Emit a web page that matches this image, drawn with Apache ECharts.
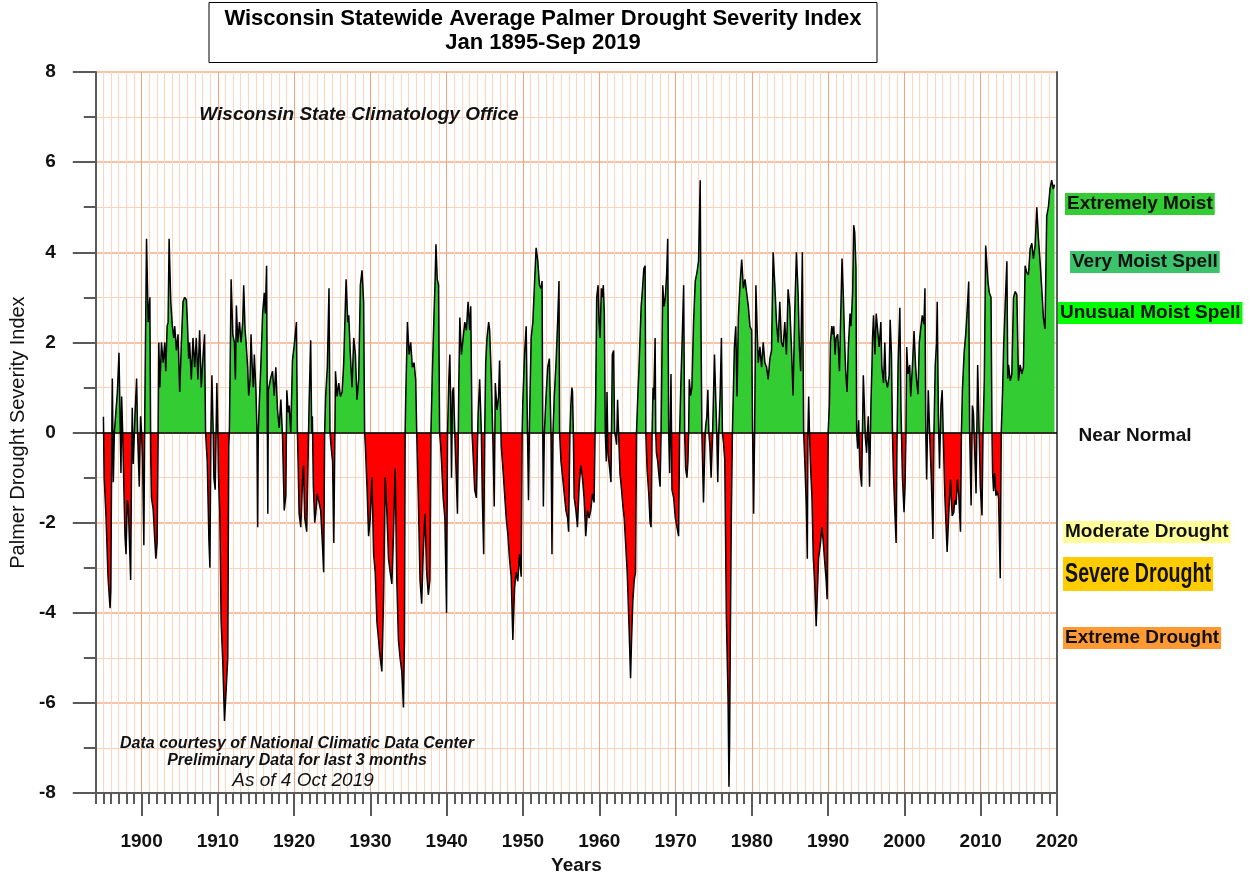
<!DOCTYPE html>
<html>
<head>
<meta charset="utf-8">
<title>Wisconsin PDSI</title>
<script src="https://cdn.jsdelivr.net/npm/echarts/dist/echarts.min.js"></script>
<style>
  html, body { margin: 0; padding: 0; background: #fff; }
  #chart { width: 1251px; height: 880px; }
</style>
</head>
<body>
<div id="chart"></div>
<script>
// monthly PDSI, kept as [year, index] pairs per decade
const pdsi1890s = [
  [1895.0, 0.35], [1895.1, -1.0], [1895.35, -1.9], [1895.6, -3.2], [1895.87, -3.9], [1895.97, -3.5], [1896.12, 0.4],
  [1896.17, 1.2], [1896.3, -1.1], [1896.43, 0.0], [1896.65, 0.5], [1896.83, 0.9], [1897.04, 1.77], [1897.17, 0.45],
  [1897.3, -0.9], [1897.39, 0.8], [1897.52, 0.0], [1897.83, -2.3], [1897.96, -2.7], [1898.13, -1.5], [1898.26, -1.6],
  [1898.57, -3.27], [1898.7, -0.45], [1898.78, 0.55], [1898.91, -0.7], [1899.13, 0.36], [1899.35, 1.2], [1899.48, 0.0],
  [1899.7, -1.2], [1899.87, 0.36]
];
const pdsi1900s = [
  [1900.0, 0.0], [1900.13, -0.55], [1900.3, -2.5], [1900.43, 0.6], [1900.65, 4.3], [1900.87, 2.45], [1901.09, 3.0],
  [1901.2, -0.5], [1901.3, -1.45], [1901.52, -1.7], [1901.74, -2.4], [1901.87, -2.8], [1902.04, -2.45], [1902.17, -0.1],
  [1902.26, 2.0], [1902.39, 1.0], [1902.61, 2.0], [1902.83, 1.55], [1903.04, 2.0], [1903.17, 1.36], [1903.35, 2.36],
  [1903.48, 2.45], [1903.61, 4.3], [1903.83, 2.9], [1904.04, 2.36], [1904.22, 2.1], [1904.35, 2.36], [1904.57, 1.82],
  [1904.78, 2.18], [1905.0, 0.9], [1905.22, 2.0], [1905.43, 2.9], [1905.65, 3.0], [1905.87, 2.95], [1906.0, 2.5],
  [1906.17, 1.64], [1906.3, 2.0], [1906.52, 1.18], [1906.74, 2.1], [1906.96, 1.45], [1907.17, 2.1], [1907.39, 1.18],
  [1907.61, 2.27], [1907.83, 1.0], [1908.04, 1.64], [1908.26, 2.18], [1908.39, 0.0], [1908.61, -0.64], [1908.83, -2.4],
  [1908.96, -3.0], [1909.09, 0.0], [1909.22, 1.27], [1909.39, 0.0], [1909.48, -1.0], [1909.65, -1.27], [1909.87, 1.1]
];
const pdsi1910s = [
  [1910.0, 0.0], [1910.09, -1.0], [1910.26, -1.8], [1910.43, -4.2], [1910.65, -5.1], [1910.87, -6.4], [1911.09, -5.7],
  [1911.3, -5.0], [1911.43, -0.3], [1911.52, 0.1], [1911.74, 3.4], [1911.96, 2.18], [1912.17, 2.0], [1912.3, 1.18],
  [1912.43, 2.82], [1912.61, 2.0], [1912.83, 2.45], [1913.04, 2.0], [1913.26, 2.45], [1913.39, 3.27], [1913.57, 2.27],
  [1913.7, 2.0], [1913.91, 1.45], [1914.04, 0.82], [1914.22, 1.18], [1914.35, 2.18], [1914.48, 1.55], [1914.65, 1.0],
  [1914.78, 1.73], [1915.0, 0.9], [1915.13, 0.0], [1915.22, -2.1], [1915.3, 0.0], [1915.43, 0.64], [1915.65, 1.55],
  [1915.87, 2.64], [1916.09, 3.1], [1916.22, 2.64], [1916.39, 3.7], [1916.48, 0.5], [1916.55, -1.8], [1916.62, 0.94],
  [1916.95, 1.23], [1917.17, 1.36], [1917.39, 0.82], [1917.6, 1.45], [1917.82, 0.5], [1918.04, 0.1], [1918.26, 0.73],
  [1918.48, -0.1], [1918.7, -1.73], [1918.91, -1.4], [1919.04, 0.94], [1919.22, 0.45], [1919.35, 0.6], [1919.56, 0.0],
  [1919.78, 1.6]
];
const pdsi1920s = [
  [1920.0, 1.92], [1920.13, 1.9], [1920.3, 2.45], [1920.43, 0.0], [1920.52, -0.64], [1920.65, -1.8], [1920.87, -2.1],
  [1921.09, -1.1], [1921.22, -0.73], [1921.39, -1.9], [1921.65, -2.2], [1921.78, -1.0], [1921.96, 0.64], [1922.17, 2.05],
  [1922.3, 0.0], [1922.39, 0.36], [1922.52, -1.18], [1922.7, -2.0], [1922.83, -1.8], [1923.04, -1.36], [1923.26, -1.55],
  [1923.48, -1.73], [1923.7, -2.45], [1923.87, -3.1], [1924.0, 0.0], [1924.13, 0.82], [1924.35, 1.45], [1924.57, 3.2],
  [1924.7, 0.0], [1924.87, -0.36], [1925.04, -0.64], [1925.2, -2.45], [1925.42, 1.36], [1925.63, 0.8], [1925.85, 1.1],
  [1926.07, 0.8], [1926.29, 0.9], [1926.5, 1.55], [1926.81, 3.4], [1927.03, 2.45], [1927.16, 2.6], [1927.37, 1.73],
  [1927.59, 1.0], [1927.81, 2.1], [1928.03, 1.73], [1928.24, 0.73], [1928.46, 1.18], [1928.68, 3.27], [1928.9, 3.6],
  [1929.11, 2.9], [1929.24, 0.0], [1929.33, -0.27], [1929.55, -1.2], [1929.76, -2.3], [1929.98, -1.9]
];
const pdsi1930s = [
  [1930.2, -1.0], [1930.42, -2.7], [1930.63, -3.1], [1930.85, -4.2], [1931.07, -4.6], [1931.28, -5.0], [1931.5, -5.3],
  [1931.72, -3.7], [1931.94, -1.0], [1932.15, -1.73], [1932.37, -2.8], [1932.59, -3.1], [1932.81, -3.36], [1933.02, -2.27],
  [1933.24, -0.8], [1933.46, -3.27], [1933.67, -4.6], [1933.89, -5.0], [1934.11, -5.3], [1934.33, -6.1], [1934.46, -4.6],
  [1934.55, 0.0], [1934.63, 0.8], [1934.85, 2.45], [1935.07, 1.73], [1935.28, 2.0], [1935.5, 1.45], [1935.72, 1.55],
  [1935.93, 1.18], [1936.07, 0.0], [1936.28, -1.45], [1936.5, -3.27], [1936.72, -3.8], [1936.93, -2.6], [1937.15, -1.8],
  [1937.37, -3.1], [1937.59, -3.6], [1937.8, -3.27], [1937.93, 0.0], [1938.11, 1.27], [1938.33, 2.6], [1938.46, 3.27],
  [1938.59, 4.18], [1938.76, 3.4], [1938.93, 3.27], [1939.07, 0.0], [1939.2, -0.27], [1939.32, -0.64], [1939.54, -1.45],
  [1939.76, -1.9], [1939.98, -4.0]
];
const pdsi1940s = [
  [1940.11, 0.0], [1940.28, 1.18], [1940.41, 1.73], [1940.54, 0.45], [1940.63, -1.0], [1940.76, 0.9], [1940.89, 1.0],
  [1941.06, 0.0], [1941.19, -0.64], [1941.41, -1.8], [1941.58, 1.0], [1941.72, 2.55], [1941.93, 1.73], [1942.15, 2.1],
  [1942.37, 2.45], [1942.58, 2.27], [1942.8, 2.9], [1943.02, 2.27], [1943.15, 2.8], [1943.32, 0.0], [1943.45, -0.45],
  [1943.67, -1.27], [1943.89, -1.45], [1944.11, 0.36], [1944.32, 1.18], [1944.54, 0.0], [1944.67, -1.45], [1944.85, -2.7],
  [1944.98, 0.0], [1945.11, 1.55], [1945.28, 2.1], [1945.5, 2.45], [1945.63, 2.27], [1945.85, 1.2], [1946.06, -0.2],
  [1946.23, -1.64], [1946.37, 1.1], [1946.59, 0.5], [1946.8, 0.8], [1946.93, 1.6], [1947.06, 0.5], [1947.15, -0.3],
  [1947.37, -0.8], [1947.8, -1.9], [1948.02, -2.27], [1948.23, -2.8], [1948.45, -3.2], [1948.67, -4.6], [1948.89, -3.45],
  [1949.1, -3.1], [1949.32, -3.3], [1949.54, -2.7], [1949.76, -3.2], [1949.89, 0.0]
];
const pdsi1950s = [
  [1949.98, 0.7], [1950.2, 1.73], [1950.42, 2.36], [1950.55, 0.5], [1950.72, -1.5], [1950.85, 0.2], [1951.07, 2.1],
  [1951.29, 2.45], [1951.5, 3.27], [1951.72, 4.1], [1951.94, 3.8], [1952.16, 3.27], [1952.37, 3.2], [1952.5, 3.36],
  [1952.59, 0.0], [1952.67, -1.64], [1952.8, 0.0], [1953.02, 0.8], [1953.24, 1.45], [1953.46, 1.64], [1953.67, 0.0],
  [1953.8, -2.7], [1953.93, 0.0], [1954.1, 0.8], [1954.33, 1.55], [1954.54, 2.45], [1954.72, 3.36], [1954.8, 0.0],
  [1954.98, -0.64], [1955.2, -1.0], [1955.41, -1.36], [1955.63, -1.73], [1955.85, -1.9], [1955.98, -2.2], [1956.15, 0.0],
  [1956.28, 0.64], [1956.41, 1.0], [1956.49, 0.9], [1956.6, 0.0], [1956.71, -1.45], [1956.92, -1.7], [1957.14, -2.1],
  [1957.36, -1.18], [1957.58, -0.73], [1957.79, -1.0], [1958.01, -1.45], [1958.23, -2.3], [1958.45, -1.73], [1958.66, -1.9],
  [1958.88, -1.73], [1959.1, -1.36], [1959.32, -1.55], [1959.45, 0.0], [1959.53, 0.8], [1959.66, 3.0], [1959.84, 3.27],
  [1959.97, 2.45]
];
const pdsi1960s = [
  [1960.1, 2.1], [1960.27, 3.2], [1960.4, 3.0], [1960.53, 3.27], [1960.66, 2.64], [1960.79, 0.0], [1960.92, -0.64],
  [1961.01, 0.9], [1961.14, -0.45], [1961.36, -0.8], [1961.53, -1.1], [1961.71, 1.73], [1961.88, 1.82], [1962.01, 0.0],
  [1962.14, -0.1], [1962.27, -0.27], [1962.4, 0.73], [1962.53, 0.0], [1962.71, -0.9], [1962.92, -1.27], [1963.1, -1.64],
  [1963.27, -1.9], [1963.45, -2.45], [1963.66, -3.1], [1963.88, -4.2], [1964.1, -5.45], [1964.23, -4.6], [1964.4, -3.73],
  [1964.58, -3.27], [1964.75, -3.1], [1964.88, 0.0], [1965.05, 0.82], [1965.19, 1.36], [1965.32, 2.0], [1965.49, 2.8],
  [1965.66, 3.18], [1965.84, 3.64], [1966.01, 3.7], [1966.1, 0.0], [1966.27, -0.82], [1966.49, -1.36], [1966.66, -2.0],
  [1966.79, -2.1], [1966.92, 0.0], [1967.05, 1.0], [1967.14, 0.73], [1967.32, 2.1], [1967.4, 0.0], [1967.49, -0.45],
  [1967.66, -0.64], [1967.79, -0.9], [1967.97, -1.2], [1968.1, 0.0], [1968.32, 3.27], [1968.49, 2.8], [1968.66, 3.0],
  [1968.84, 3.55], [1968.97, 4.3], [1969.1, 0.0], [1969.23, -0.9], [1969.4, 1.3], [1969.53, -1.27], [1969.75, -1.45],
  [1969.97, -1.9]
];
const pdsi1970s = [
  [1970.18, -2.1], [1970.4, -2.3], [1970.53, 0.0], [1970.71, 1.18], [1970.84, 1.9], [1971.06, 3.27], [1971.19, 0.0],
  [1971.32, -0.8], [1971.49, -1.0], [1971.62, -0.64], [1971.71, 0.0], [1971.8, 1.18], [1971.97, 0.82], [1972.14, 1.0],
  [1972.36, 2.45], [1972.58, 3.36], [1972.8, 3.55], [1973.01, 3.8], [1973.23, 5.6], [1973.35, 2.0], [1973.45, 0.0],
  [1973.66, -1.55], [1973.88, 0.0], [1973.97, 0.18], [1974.1, 0.36], [1974.23, 0.95], [1974.36, 0.0], [1974.49, -0.27],
  [1974.66, -1.0], [1974.84, -0.1], [1975.1, 1.73], [1975.27, 0.73], [1975.4, 0.0], [1975.53, -1.1], [1975.66, 0.0],
  [1975.84, 0.82], [1976.01, 2.1], [1976.14, 0.0], [1976.27, -0.2], [1976.45, -0.6], [1976.66, -4.1], [1976.88, -5.9],
  [1977.0, -7.86], [1977.08, -6.9], [1977.2, -4.1], [1977.3, -2.0], [1977.45, 0.0], [1977.71, 1.9], [1977.89, 2.36],
  [1978.06, 0.8], [1978.23, 2.55], [1978.45, 3.3], [1978.67, 3.84], [1978.89, 3.2], [1979.1, 3.4], [1979.32, 3.1],
  [1979.54, 2.8], [1979.75, 2.36], [1979.97, 2.27]
];
const pdsi1980s = [
  [1980.1, 0.0], [1980.23, -1.8], [1980.36, 0.0], [1980.53, 3.27], [1980.71, 2.2], [1980.84, 1.55], [1981.06, 1.9],
  [1981.27, 1.45], [1981.49, 2.0], [1981.71, 1.55], [1981.93, 1.45], [1982.14, 1.18], [1982.36, 1.64], [1982.58, 1.82],
  [1982.79, 4.0], [1983.01, 3.27], [1983.23, 2.45], [1983.45, 2.0], [1983.66, 2.9], [1983.88, 2.0], [1984.1, 1.9],
  [1984.32, 2.45], [1984.53, 1.73], [1984.75, 3.18], [1984.97, 2.8], [1985.19, 1.9], [1985.4, 0.82], [1985.62, 2.64],
  [1985.84, 4.0], [1986.06, 3.1], [1986.23, 1.9], [1986.4, 1.36], [1986.62, 4.0], [1986.79, 0.0], [1986.92, -0.55],
  [1987.14, -1.64], [1987.27, -2.8], [1987.35, 0.0], [1987.45, 0.8], [1987.55, 0.0], [1987.71, -0.8], [1987.88, -1.45],
  [1988.06, -2.8], [1988.23, -3.3], [1988.43, -4.3], [1988.56, -3.7], [1988.74, -2.8], [1989.0, -2.45], [1989.17, -2.1],
  [1989.35, -2.4], [1989.52, -2.8], [1989.74, -3.27], [1989.87, -3.7]
];
const pdsi1990s = [
  [1990.0, 0.0], [1990.17, 0.64], [1990.3, 2.0], [1990.48, 2.36], [1990.61, 2.18], [1990.74, 2.36], [1990.91, 1.73],
  [1991.04, 2.1], [1991.26, 2.18], [1991.48, 1.36], [1991.69, 2.9], [1991.82, 3.86], [1992.0, 3.0], [1992.13, 2.18],
  [1992.3, 1.36], [1992.48, 0.9], [1992.65, 1.9], [1992.87, 2.64], [1993.0, 2.36], [1993.21, 3.1], [1993.35, 4.6],
  [1993.48, 4.45], [1993.65, 3.64], [1993.74, 0.0], [1993.87, -0.36], [1994.0, 0.27], [1994.17, -0.8], [1994.39, -1.2],
  [1994.61, 1.27], [1994.74, 0.64], [1994.87, -0.1], [1995.04, -0.45], [1995.26, 0.36], [1995.43, -1.2], [1995.61, 0.64],
  [1995.74, 1.45], [1995.82, 2.1], [1995.95, 2.6], [1996.13, 1.73], [1996.3, 2.64], [1996.48, 2.6], [1996.69, 1.9],
  [1996.91, 2.45], [1997.04, 1.45], [1997.26, 1.1], [1997.43, 2.0], [1997.56, 1.18], [1997.78, 1.0], [1998.0, 1.27],
  [1998.13, 2.5], [1998.3, 1.73], [1998.43, 0.0], [1998.56, -0.9], [1998.74, -1.73], [1998.91, -2.45], [1999.0, -0.5],
  [1999.17, 1.5], [1999.4, 2.77], [1999.55, 0.5], [1999.74, -1.0], [1999.95, -1.77]
];
const pdsi2000s = [
  [2000.08, -1.2], [2000.2, 0.0], [2000.3, 1.9], [2000.47, 1.3], [2000.69, 1.5], [2000.82, 0.8], [2001.04, 1.45],
  [2001.26, 2.25], [2001.47, 1.45], [2001.6, 1.15], [2001.78, 0.85], [2001.95, 2.0], [2002.13, 2.3], [2002.34, 2.6],
  [2002.56, 2.4], [2002.69, 3.2], [2002.8, 0.0], [2002.91, -1.04], [2003.02, 0.0], [2003.13, 0.94], [2003.3, 0.0],
  [2003.52, -1.0], [2003.74, -2.36], [2003.87, 0.0], [2004.04, 1.5], [2004.21, 2.0], [2004.3, 2.9], [2004.45, 0.4],
  [2004.6, -0.8], [2004.78, 0.6], [2004.95, 0.94], [2005.08, 0.0], [2005.3, -1.4], [2005.6, -2.65], [2005.82, -1.77],
  [2006.04, -1.04], [2006.26, -1.85], [2006.47, -1.77], [2006.6, -1.5], [2006.78, -1.6], [2006.95, -1.04], [2007.13, -1.4],
  [2007.35, -2.2], [2007.47, 0.0], [2007.6, 0.94], [2007.82, 1.75], [2008.04, 2.2], [2008.21, 2.66], [2008.43, 3.35],
  [2008.55, 0.0], [2008.74, -1.62], [2008.91, 0.6], [2009.04, 0.45], [2009.21, -0.4], [2009.39, -1.35], [2009.6, 1.5],
  [2009.78, 1.5], [2009.95, -1.2]
];
const pdsi2010s = [
  [2010.17, -1.84], [2010.3, 0.0], [2010.47, 1.15], [2010.65, 4.15], [2010.82, 3.7], [2010.95, 3.35], [2011.13, 3.1],
  [2011.35, 3.0], [2011.48, 0.0], [2011.56, -0.9], [2011.69, -1.3], [2011.82, -0.9], [2012.0, -1.4], [2012.17, -1.3],
  [2012.34, -1.45], [2012.56, -3.23], [2012.69, 0.0], [2012.87, 0.94], [2013.0, 1.88], [2013.2, 2.8], [2013.43, 3.8],
  [2013.55, 1.2], [2013.65, 1.5], [2013.87, 1.15], [2014.08, 1.3], [2014.3, 3.0], [2014.52, 3.13], [2014.74, 3.06],
  [2014.95, 1.15], [2015.17, 1.5], [2015.39, 1.3], [2015.6, 1.45], [2015.82, 3.7], [2016.04, 3.55], [2016.26, 3.5],
  [2016.48, 4.08], [2016.7, 4.2], [2016.91, 3.86], [2017.13, 4.15], [2017.35, 5.0], [2017.57, 4.3], [2017.78, 3.8],
  [2018.0, 3.2], [2018.22, 2.54], [2018.43, 2.3], [2018.65, 4.8], [2018.87, 5.0], [2019.08, 5.4], [2019.3, 5.6],
  [2019.52, 5.4], [2019.67, 5.5]
];

const pdsi = [].concat(pdsi1890s, pdsi1900s, pdsi1910s, pdsi1920s, pdsi1930s, pdsi1940s,
  pdsi1950s, pdsi1960s, pdsi1970s, pdsi1980s, pdsi1990s, pdsi2000s, pdsi2010s);

const decades = [1900, 1910, 1920, 1930, 1940, 1950, 1960, 1970, 1980, 1990, 2000, 2010, 2020];
const classLabels = ['Extremely Moist', 'Very Moist Spell', 'Unusual Moist Spell', 'Near Normal',
  'Moderate Drought', 'Severe Drought', 'Extreme Drought'];

const FONT = '"Liberation Sans", Arial, Helvetica, sans-serif';
const AXIS_GRAY = '#5a5a5a';

const chart = echarts.init(document.getElementById('chart'), null, { renderer: 'canvas' });

function boxLabel(text, x, y, bg, extra) {
  return Object.assign({
    type: 'text', x, y, z: 100,
    style: {
      text, fill: '#111', font: 'bold 19px ' + FONT,
      backgroundColor: bg, padding: [1, 2, 1, 2], lineHeight: 20,
      align: 'left', verticalAlign: 'top'
    }
  }, extra || {});
}

chart.setOption({
  animation: false,
  backgroundColor: '#fff',
  grid: { left: 92, top: 72, width: 965, height: 730 },
  xAxis: [
    {
      type: 'value', min: 1894, max: 2020, interval: 1,
      axisLine: { onZero: false, lineStyle: { color: AXIS_GRAY, width: 2 } },
      axisTick: { length: 11, lineStyle: { color: AXIS_GRAY, width: 2 } },
      axisLabel: { show: false },
      splitLine: { show: true, lineStyle: { color: '#fdd6bd', width: 1 } }
    },
    {
      type: 'value', min: 1894, max: 2020, position: 'bottom',
      axisLine: { show: false, onZero: false },
      axisTick: { show: true, customValues: decades, length: 23, lineStyle: { color: AXIS_GRAY, width: 2 } },
      axisLabel: {
        customValues: decades, margin: 39, color: '#111',
        fontFamily: FONT, fontSize: 19, fontWeight: 'bold',
        formatter: (v) => String(v)
      },
      splitLine: { show: true, lineStyle: { color: '#f6a27a', width: 1 } },
      name: 'Years', nameLocation: 'middle', nameGap: 60,
      nameTextStyle: { fontFamily: FONT, fontSize: 19, fontWeight: 'bold', color: '#111' }
    }
  ],
  yAxis: [
    {
      type: 'value', min: -8, max: 8, interval: 2,
      axisLine: { show: true, onZero: false, lineStyle: { color: AXIS_GRAY, width: 2 } },
      axisTick: { show: true, length: 23, lineStyle: { color: AXIS_GRAY, width: 2 } },
      minorTick: { show: true, splitNumber: 2, length: 12, lineStyle: { color: AXIS_GRAY, width: 2 } },
      splitLine: { show: true, lineStyle: { color: '#f8ae88', width: 1.5 } },
      minorSplitLine: { show: true, lineStyle: { color: '#fcd3b8', width: 1 } },
      axisLabel: { margin: 40, color: '#111', fontFamily: FONT, fontSize: 19, fontWeight: 'bold' },
      name: 'Palmer Drought Severity Index', nameLocation: 'middle', nameGap: 60,
      nameTextStyle: { fontFamily: FONT, fontSize: 20, color: '#111' }
    },
    {
      type: 'value', min: -8, max: 8, position: 'right',
      axisLine: { show: true, onZero: false, lineStyle: { color: AXIS_GRAY, width: 2 } },
      axisTick: { show: false }, axisLabel: { show: false }, splitLine: { show: false }
    }
  ],
  visualMap: {
    show: false, type: 'piecewise', seriesIndex: 0, dimension: 1,
    pieces: [{ gte: -10, lt: 0, color: '#ff0000' }, { gte: 0, lte: 10, color: '#33cc33' }]
  },
  series: [
    {
      name: 'fill', type: 'line', data: pdsi, showSymbol: false, silent: true,
      lineStyle: { width: 0 }, areaStyle: { opacity: 1 }, z: 2
    },
    {
      name: 'PDSI', type: 'line', data: pdsi, showSymbol: false, silent: true,
      lineStyle: { color: '#000', width: 1.5 }, z: 3,
      markLine: {
        silent: true, symbol: 'none', label: { show: false },
        lineStyle: { color: '#000', width: 1.5, type: 'solid' },
        data: [{ yAxis: 0 }]
      }
    }
  ],
  graphic: [
    {
      type: 'rect', shape: { x: 209, y: 2.5, width: 668, height: 60 }, z: 100,
      style: { fill: '#fff', stroke: '#000', lineWidth: 1 }
    },
    {
      type: 'text', x: 543, y: 19, z: 101,
      style: { text: 'Wisconsin Statewide Average Palmer Drought Severity Index', font: 'bold 22px ' + FONT, fill: '#000', align: 'center', verticalAlign: 'middle' }
    },
    {
      type: 'text', x: 543, y: 43, z: 101,
      style: { text: 'Jan 1895-Sep 2019', font: 'bold 22px ' + FONT, fill: '#000', align: 'center', verticalAlign: 'middle' }
    },
    {
      type: 'text', x: 359, y: 115, z: 100,
      style: { text: 'Wisconsin State Climatology Office', font: 'italic bold 19px ' + FONT, fill: '#111', align: 'center', verticalAlign: 'middle' }
    },
    {
      type: 'text', x: 297, y: 744, z: 100,
      style: { text: 'Data courtesy of National Climatic Data Center', font: 'italic bold 16px ' + FONT, fill: '#111', align: 'center', verticalAlign: 'middle' }
    },
    {
      type: 'text', x: 297, y: 761, z: 100,
      style: { text: 'Preliminary Data for last 3 months', font: 'italic bold 16px ' + FONT, fill: '#111', align: 'center', verticalAlign: 'middle' }
    },
    {
      type: 'text', x: 303, y: 781, z: 100,
      style: { text: 'As of 4 Oct 2019', font: 'italic 19px ' + FONT, fill: '#111', align: 'center', verticalAlign: 'middle' }
    },
    boxLabel(classLabels[0], 1065, 193, '#33cc33'),
    boxLabel(classLabels[1], 1070, 251, '#3cc36c'),
    boxLabel(classLabels[2], 1058, 302, '#00ff00'),
    {
      type: 'text', x: 1135, y: 436, z: 100,
      style: { text: classLabels[3], font: 'bold 19px ' + FONT, fill: '#111', align: 'center', verticalAlign: 'middle' }
    },
    boxLabel(classLabels[4], 1063, 521, '#ffff99'),
    boxLabel(classLabels[5], 1063, 557, '#ffcc00', {
      scaleX: 0.7,
      style: {
        text: classLabels[5], fill: '#111', font: 'bold 28px ' + FONT,
        backgroundColor: '#ffcc00', padding: [2, 3, 2, 3], lineHeight: 30,
        align: 'left', verticalAlign: 'top'
      }
    }),
    boxLabel(classLabels[6], 1063, 627, '#ff9933')
  ]
});
</script>
</body>
</html>
